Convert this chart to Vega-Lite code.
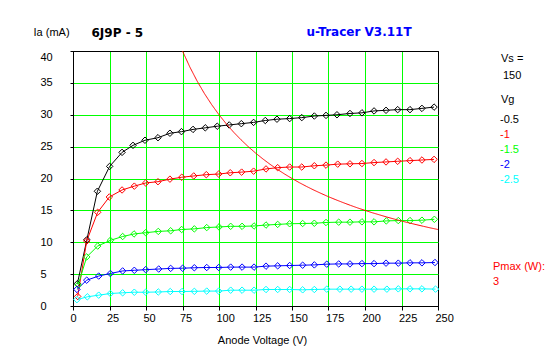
{
  "$schema": "https://vega.github.io/schema/vega-lite/v6.json",
  "width": 365,
  "height": 255,
  "autosize": "none",
  "padding": {"left": 73, "top": 51, "right": 109, "bottom": 51},
  "background": "white",
  "config": {
    "font": "Liberation Sans",
    "view": {"stroke": "black", "strokeWidth": 1},
    "axis": {
      "labelFont": "Liberation Sans", "labelFontSize": 11, "labelColor": "black",
      "titleFont": "Liberation Sans", "titleFontSize": 11, "titleFontWeight": "normal", "titleColor": "black",
      "domainColor": "black", "domainWidth": 1, "tickColor": "black", "tickWidth": 1,
      "gridOpacity": 1, "gridWidth": 1
    },
    "legend": {
      "labelFont": "Liberation Sans", "labelFontSize": 11, "titleFont": "Liberation Sans",
      "titleFontSize": 11, "titleFontWeight": "normal", "titleColor": "black", "labelColor": "black",
      "symbolOpacity": 0, "symbolSize": 0, "symbolStrokeWidth": 0, "padding": 0,
      "orient": "none", "titleBaseline": "top"
    }
  },
  "datasets": {
    "curves": [
      {"Va": 3, "Ia": 3.5, "Vg": "-0.5"}, {"Va": 9.5, "Ia": 10.4, "Vg": "-0.5"}, {"Va": 16.7, "Ia": 18.0, "Vg": "-0.5"}, {"Va": 25.1, "Ia": 21.9, "Vg": "-0.5"}, {"Va": 33.6, "Ia": 24.1, "Vg": "-0.5"}, {"Va": 41.1, "Ia": 25.2, "Vg": "-0.5"}, {"Va": 49.3, "Ia": 26.0, "Vg": "-0.5"}, {"Va": 58.2, "Ia": 26.4, "Vg": "-0.5"}, {"Va": 66.4, "Ia": 27.1, "Vg": "-0.5"}, {"Va": 74.3, "Ia": 27.35, "Vg": "-0.5"}, {"Va": 82.2, "Ia": 27.7, "Vg": "-0.5"}, {"Va": 90.6, "Ia": 27.95, "Vg": "-0.5"}, {"Va": 98.8, "Ia": 28.2, "Vg": "-0.5"}, {"Va": 107, "Ia": 28.4, "Vg": "-0.5"}, {"Va": 115.3, "Ia": 28.6, "Vg": "-0.5"}, {"Va": 123.7, "Ia": 28.8, "Vg": "-0.5"}, {"Va": 131.7, "Ia": 29.1, "Vg": "-0.5"}, {"Va": 139.7, "Ia": 29.3, "Vg": "-0.5"}, {"Va": 148.4, "Ia": 29.4, "Vg": "-0.5"}, {"Va": 156.7, "Ia": 29.55, "Vg": "-0.5"}, {"Va": 165.3, "Ia": 29.8, "Vg": "-0.5"}, {"Va": 173.3, "Ia": 29.9, "Vg": "-0.5"}, {"Va": 180.8, "Ia": 30.0, "Vg": "-0.5"}, {"Va": 189.7, "Ia": 30.2, "Vg": "-0.5"}, {"Va": 197.9, "Ia": 30.3, "Vg": "-0.5"}, {"Va": 206.2, "Ia": 30.6, "Vg": "-0.5"}, {"Va": 214.4, "Ia": 30.7, "Vg": "-0.5"}, {"Va": 222.4, "Ia": 30.8, "Vg": "-0.5"}, {"Va": 230.8, "Ia": 30.8, "Vg": "-0.5"}, {"Va": 239, "Ia": 31.0, "Vg": "-0.5"}, {"Va": 247.3, "Ia": 31.2, "Vg": "-0.5"},
      {"Va": 3.2, "Ia": 1.5, "Vg": "-1"}, {"Va": 9.4, "Ia": 10.2, "Vg": "-1"}, {"Va": 16.9, "Ia": 14.7, "Vg": "-1"}, {"Va": 24.9, "Ia": 17.1, "Vg": "-1"}, {"Va": 33.6, "Ia": 18.2, "Vg": "-1"}, {"Va": 42, "Ia": 18.8, "Vg": "-1"}, {"Va": 49.8, "Ia": 19.3, "Vg": "-1"}, {"Va": 58.2, "Ia": 19.5, "Vg": "-1"}, {"Va": 66.4, "Ia": 19.9, "Vg": "-1"}, {"Va": 74.5, "Ia": 20.2, "Vg": "-1"}, {"Va": 82.7, "Ia": 20.4, "Vg": "-1"}, {"Va": 91.3, "Ia": 20.6, "Vg": "-1"}, {"Va": 99.8, "Ia": 20.7, "Vg": "-1"}, {"Va": 107.7, "Ia": 20.9, "Vg": "-1"}, {"Va": 115.5, "Ia": 21.0, "Vg": "-1"}, {"Va": 123.7, "Ia": 21.15, "Vg": "-1"}, {"Va": 132.2, "Ia": 21.5, "Vg": "-1"}, {"Va": 140.2, "Ia": 21.7, "Vg": "-1"}, {"Va": 148.4, "Ia": 21.8, "Vg": "-1"}, {"Va": 156.7, "Ia": 21.8, "Vg": "-1"}, {"Va": 165.3, "Ia": 22.0, "Vg": "-1"}, {"Va": 173.3, "Ia": 22.1, "Vg": "-1"}, {"Va": 181.3, "Ia": 22.25, "Vg": "-1"}, {"Va": 189.7, "Ia": 22.3, "Vg": "-1"}, {"Va": 197.9, "Ia": 22.35, "Vg": "-1"}, {"Va": 206.2, "Ia": 22.5, "Vg": "-1"}, {"Va": 214.4, "Ia": 22.6, "Vg": "-1"}, {"Va": 222.4, "Ia": 22.7, "Vg": "-1"}, {"Va": 230.8, "Ia": 22.8, "Vg": "-1"}, {"Va": 239, "Ia": 22.9, "Vg": "-1"}, {"Va": 247.3, "Ia": 23.0, "Vg": "-1"},
      {"Va": 3.5, "Ia": 3.3, "Vg": "-1.5"}, {"Va": 9.4, "Ia": 7.7, "Vg": "-1.5"}, {"Va": 16.9, "Ia": 9.4, "Vg": "-1.5"}, {"Va": 25.6, "Ia": 10.3, "Vg": "-1.5"}, {"Va": 34, "Ia": 10.9, "Vg": "-1.5"}, {"Va": 41.8, "Ia": 11.3, "Vg": "-1.5"}, {"Va": 49.8, "Ia": 11.5, "Vg": "-1.5"}, {"Va": 58.4, "Ia": 11.7, "Vg": "-1.5"}, {"Va": 66.9, "Ia": 11.8, "Vg": "-1.5"}, {"Va": 74.4, "Ia": 12.0, "Vg": "-1.5"}, {"Va": 83.1, "Ia": 12.1, "Vg": "-1.5"}, {"Va": 91.6, "Ia": 12.3, "Vg": "-1.5"}, {"Va": 100, "Ia": 12.4, "Vg": "-1.5"}, {"Va": 108, "Ia": 12.5, "Vg": "-1.5"}, {"Va": 115.8, "Ia": 12.5, "Vg": "-1.5"}, {"Va": 124, "Ia": 12.55, "Vg": "-1.5"}, {"Va": 132.2, "Ia": 12.7, "Vg": "-1.5"}, {"Va": 140.2, "Ia": 12.8, "Vg": "-1.5"}, {"Va": 148.4, "Ia": 12.9, "Vg": "-1.5"}, {"Va": 157.3, "Ia": 12.94, "Vg": "-1.5"}, {"Va": 165.3, "Ia": 12.98, "Vg": "-1.5"}, {"Va": 173.3, "Ia": 13.1, "Vg": "-1.5"}, {"Va": 182, "Ia": 13.15, "Vg": "-1.5"}, {"Va": 189.7, "Ia": 13.15, "Vg": "-1.5"}, {"Va": 197.9, "Ia": 13.2, "Vg": "-1.5"}, {"Va": 206.2, "Ia": 13.2, "Vg": "-1.5"}, {"Va": 214.6, "Ia": 13.35, "Vg": "-1.5"}, {"Va": 222.8, "Ia": 13.4, "Vg": "-1.5"}, {"Va": 230.8, "Ia": 13.4, "Vg": "-1.5"}, {"Va": 239, "Ia": 13.46, "Vg": "-1.5"}, {"Va": 247.5, "Ia": 13.6, "Vg": "-1.5"},
      {"Va": 2.7, "Ia": 2.6, "Vg": "-2"}, {"Va": 9.4, "Ia": 4.05, "Vg": "-2"}, {"Va": 17.6, "Ia": 4.7, "Vg": "-2"}, {"Va": 25.6, "Ia": 5.1, "Vg": "-2"}, {"Va": 34, "Ia": 5.5, "Vg": "-2"}, {"Va": 42, "Ia": 5.6, "Vg": "-2"}, {"Va": 49.8, "Ia": 5.7, "Vg": "-2"}, {"Va": 58.7, "Ia": 5.8, "Vg": "-2"}, {"Va": 66.9, "Ia": 5.9, "Vg": "-2"}, {"Va": 75.1, "Ia": 5.93, "Vg": "-2"}, {"Va": 83.1, "Ia": 6.0, "Vg": "-2"}, {"Va": 91.6, "Ia": 6.04, "Vg": "-2"}, {"Va": 99.8, "Ia": 6.04, "Vg": "-2"}, {"Va": 108, "Ia": 6.1, "Vg": "-2"}, {"Va": 115.8, "Ia": 6.1, "Vg": "-2"}, {"Va": 124, "Ia": 6.1, "Vg": "-2"}, {"Va": 132.2, "Ia": 6.25, "Vg": "-2"}, {"Va": 140.2, "Ia": 6.3, "Vg": "-2"}, {"Va": 148.4, "Ia": 6.35, "Vg": "-2"}, {"Va": 157.3, "Ia": 6.4, "Vg": "-2"}, {"Va": 165.3, "Ia": 6.45, "Vg": "-2"}, {"Va": 173.8, "Ia": 6.56, "Vg": "-2"}, {"Va": 182, "Ia": 6.6, "Vg": "-2"}, {"Va": 189.7, "Ia": 6.6, "Vg": "-2"}, {"Va": 197.9, "Ia": 6.65, "Vg": "-2"}, {"Va": 206.2, "Ia": 6.65, "Vg": "-2"}, {"Va": 214.4, "Ia": 6.72, "Vg": "-2"}, {"Va": 222.8, "Ia": 6.72, "Vg": "-2"}, {"Va": 230.8, "Ia": 6.77, "Vg": "-2"}, {"Va": 239, "Ia": 6.77, "Vg": "-2"}, {"Va": 247.9, "Ia": 6.82, "Vg": "-2"},
      {"Va": 2.7, "Ia": 1.0, "Vg": "-2.5"}, {"Va": 9.8, "Ia": 1.44, "Vg": "-2.5"}, {"Va": 17.6, "Ia": 1.7, "Vg": "-2.5"}, {"Va": 25.6, "Ia": 1.96, "Vg": "-2.5"}, {"Va": 34, "Ia": 2.07, "Vg": "-2.5"}, {"Va": 42, "Ia": 2.16, "Vg": "-2.5"}, {"Va": 49.8, "Ia": 2.16, "Vg": "-2.5"}, {"Va": 58.4, "Ia": 2.2, "Vg": "-2.5"}, {"Va": 66.6, "Ia": 2.27, "Vg": "-2.5"}, {"Va": 74.7, "Ia": 2.27, "Vg": "-2.5"}, {"Va": 83.1, "Ia": 2.3, "Vg": "-2.5"}, {"Va": 91.6, "Ia": 2.34, "Vg": "-2.5"}, {"Va": 99.8, "Ia": 2.34, "Vg": "-2.5"}, {"Va": 108, "Ia": 2.48, "Vg": "-2.5"}, {"Va": 115.8, "Ia": 2.48, "Vg": "-2.5"}, {"Va": 124, "Ia": 2.48, "Vg": "-2.5"}, {"Va": 132.2, "Ia": 2.59, "Vg": "-2.5"}, {"Va": 140.2, "Ia": 2.59, "Vg": "-2.5"}, {"Va": 148.4, "Ia": 2.59, "Vg": "-2.5"}, {"Va": 157.3, "Ia": 2.54, "Vg": "-2.5"}, {"Va": 165.3, "Ia": 2.59, "Vg": "-2.5"}, {"Va": 173.8, "Ia": 2.64, "Vg": "-2.5"}, {"Va": 182.8, "Ia": 2.64, "Vg": "-2.5"}, {"Va": 190.5, "Ia": 2.64, "Vg": "-2.5"}, {"Va": 197.9, "Ia": 2.64, "Vg": "-2.5"}, {"Va": 206.2, "Ia": 2.64, "Vg": "-2.5"}, {"Va": 215, "Ia": 2.64, "Vg": "-2.5"}, {"Va": 222.8, "Ia": 2.69, "Vg": "-2.5"}, {"Va": 230.8, "Ia": 2.69, "Vg": "-2.5"}, {"Va": 239, "Ia": 2.69, "Vg": "-2.5"}, {"Va": 248.3, "Ia": 2.65, "Vg": "-2.5"}
    ],
    "pmax": [
      {"Va": 75, "Ia": 40, "P": "3"}, {"Va": 80, "Ia": 37.5, "P": "3"}, {"Va": 85, "Ia": 35.29, "P": "3"}, {"Va": 90, "Ia": 33.33, "P": "3"}, {"Va": 95, "Ia": 31.58, "P": "3"}, {"Va": 100, "Ia": 30, "P": "3"}, {"Va": 105, "Ia": 28.57, "P": "3"}, {"Va": 110, "Ia": 27.27, "P": "3"}, {"Va": 115, "Ia": 26.09, "P": "3"}, {"Va": 120, "Ia": 25, "P": "3"}, {"Va": 125, "Ia": 24, "P": "3"}, {"Va": 130, "Ia": 23.08, "P": "3"}, {"Va": 135, "Ia": 22.22, "P": "3"}, {"Va": 140, "Ia": 21.43, "P": "3"}, {"Va": 145, "Ia": 20.69, "P": "3"}, {"Va": 150, "Ia": 20, "P": "3"}, {"Va": 155, "Ia": 19.35, "P": "3"}, {"Va": 160, "Ia": 18.75, "P": "3"}, {"Va": 165, "Ia": 18.18, "P": "3"}, {"Va": 170, "Ia": 17.65, "P": "3"}, {"Va": 175, "Ia": 17.14, "P": "3"}, {"Va": 180, "Ia": 16.67, "P": "3"}, {"Va": 185, "Ia": 16.22, "P": "3"}, {"Va": 190, "Ia": 15.79, "P": "3"}, {"Va": 195, "Ia": 15.38, "P": "3"}, {"Va": 200, "Ia": 15, "P": "3"}, {"Va": 205, "Ia": 14.63, "P": "3"}, {"Va": 210, "Ia": 14.29, "P": "3"}, {"Va": 215, "Ia": 13.95, "P": "3"}, {"Va": 220, "Ia": 13.64, "P": "3"}, {"Va": 225, "Ia": 13.33, "P": "3"}, {"Va": 230, "Ia": 13.04, "P": "3"}, {"Va": 235, "Ia": 12.77, "P": "3"}, {"Va": 240, "Ia": 12.5, "P": "3"}, {"Va": 245, "Ia": 12.24, "P": "3"}, {"Va": 250, "Ia": 12, "P": "3"}
    ],
    "vs": [{"Vs": "150"}]
  },
  "resolve": {"axis": {"x": "independent", "y": "independent"}},
  "layer": [
    {
      "data": {"name": "curves"},
      "mark": {"type": "line", "strokeWidth": 1},
      "encoding": {
        "x": {"field": "Va", "type": "quantitative", "scale": {"domain": [0, 250], "nice": false, "zero": false},
          "axis": {"orient": "bottom", "values": [0, 25, 50, 75, 100, 125, 150, 175, 200, 225, 250], "grid": true,
            "gridColor": {"condition": {"test": "datum.value == 0 || datum.value == 250", "value": "black"}, "value": "#00ff00"},
            "tickSize": 4, "labelAlign": "left", "labelOffset": -3, "labelPadding": 2, "labelFlush": false, "labelOverlap": false,
            "title": "Anode Voltage (V)", "titleX": 189, "titleY": 37.5, "titleAlign": "center", "titleBaseline": "alphabetic"}},
        "y": {"field": "Ia", "type": "quantitative", "scale": {"domain": [0, 40], "nice": false, "zero": false},
          "axis": {"orient": "left", "values": [0, 5, 10, 15, 20, 25, 30, 35, 40], "grid": true,
            "gridColor": {"condition": {"test": "datum.value == 0 || datum.value == 40", "value": "black"}, "value": "#00ff00"},
            "tickSize": 3, "labelAlign": "left", "labelPadding": 30, "labelFlush": false, "labelOverlap": false,
            "labelBaseline": {"condition": {"test": "datum.value == 40", "value": "top"}, "value": "middle"},
            "title": "Ia (mA)", "titleAngle": 0, "titleX": -40, "titleY": -15.7, "titleAlign": "left", "titleBaseline": "alphabetic"}},
        "color": {"field": "Vg", "type": "nominal",
          "scale": {"domain": ["-0.5", "-1", "-1.5", "-2", "-2.5"], "range": ["#000000", "#ff0000", "#00ff00", "#0000ff", "#00ffff"]},
          "legend": {"title": "Vg", "legendX": 428, "legendY": 43, "labelOffset": -12, "rowPadding": 3, "titlePadding": 9,
            "labelColor": {"expr": "datum.label == '-0.5' ? '#000000' : datum.label == '-1' ? '#ff0000' : datum.label == '-1.5' ? '#00ff00' : datum.label == '-2' ? '#0000ff' : '#00ffff'"}}},
        "detail": {"field": "Vg"}
      }
    },
    {
      "data": {"name": "curves"},
      "mark": {"type": "point", "shape": "diamond", "filled": false, "size": 42, "strokeWidth": 1, "opacity": 1},
      "encoding": {
        "x": {"field": "Va", "type": "quantitative", "axis": null},
        "y": {"field": "Ia", "type": "quantitative", "axis": null},
        "color": {"field": "Vg", "type": "nominal"}
      }
    },
    {
      "data": {"name": "vs"},
      "mark": {"type": "point", "opacity": 0},
      "encoding": {
        "shape": {"field": "Vs", "type": "nominal", "scale": {"range": ["diamond"]},
          "legend": {"title": "Vs =", "legendX": 428, "legendY": 2, "labelOffset": -9, "titlePadding": 6}}
      }
    },
    {
      "data": {"name": "pmax"},
      "mark": {"type": "line", "color": "#ff0000", "strokeWidth": 1},
      "encoding": {
        "x": {"field": "Va", "type": "quantitative",
          "axis": {"orient": "top", "labels": false, "ticks": false, "domain": false, "grid": false,
            "title": "6J9P - 5", "titleFont": "DejaVu Sans", "titleFontWeight": "bold", "titleFontSize": 12,
            "titleX": 18, "titleY": -15, "titleAlign": "left", "titleBaseline": "alphabetic"}},
        "y": {"field": "Ia", "type": "quantitative",
          "axis": {"orient": "right", "labels": false, "ticks": false, "domain": false, "grid": false,
            "title": "u-Tracer V3.11T", "titleFont": "DejaVu Sans", "titleFontWeight": "bold", "titleFontSize": 12, "titleColor": "#0000ff",
            "titleAngle": 0, "titleX": -132, "titleY": -15.3, "titleAlign": "left", "titleBaseline": "alphabetic"}},
        "strokeDash": {"field": "P", "type": "nominal", "scale": {"range": [[1, 0]]},
          "legend": {"title": "Pmax (W):", "titleColor": "#ff0000", "labelColor": "#ff0000", "legendX": 420, "legendY": 210, "labelOffset": -11, "titlePadding": 4}}
      }
    }
  ]
}
